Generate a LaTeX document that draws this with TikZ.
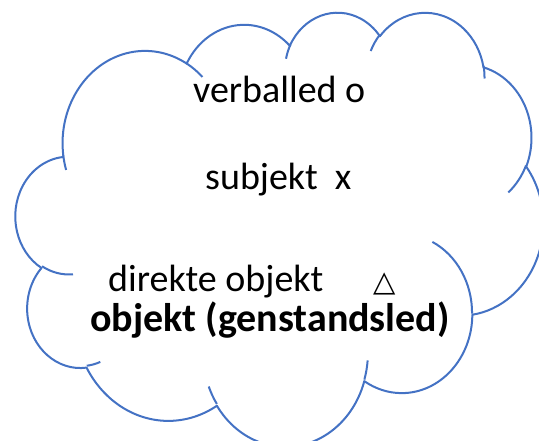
\documentclass[tikz,border=0pt]{standalone}
\usepackage{fontspec}
\setmainfont{Carlito}
\newfontfamily\symfont{DejaVu Sans}
\definecolor{cloudblue}{RGB}{68,114,196}
\tikzset{cloudline/.style={draw=cloudblue, line width=2pt, line join=round}}

\begin{document}
\begin{tikzpicture}[x=1pt, y=-1pt, font=\fontsize{38}{46}\selectfont]
  \useasboundingbox (0,0) rectangle (539,441);
  \clip (0,0) rectangle (539,441);
  % cloud outline, arcs given as x radius / y radius / start / sweep
  \begin{scope}[shift={(15.7,11.3)}, x=0.12209pt, y=-0.10046pt]
    \draw[cloudline, fill=white] (390,1437)
      \foreach \rx/\ry/\sa/\da in {675.3/919.0/-190.4875/123.7805,
                                   533.3/726.7/-144.1024/89.9452,
                                   436.5/594.5/-145.8079/99.7230,
                                   485.7/659.5/-130.9861/117.2417,
                                   533.3/727.3/-78.7089/109.0269,
                                   677.5/922.0/-46.2673/130.2690,
                                   578.5/786.7/0.6250/114.0333,
                                   675.2/921.5/22.4516/115.1726,
                                   772.0/1054.3/66.2426/75.7110,
                                   436.0/591.8/-274.9421/146.7356,
                                   434.5/594.5/-246.8285/152.5189}{
        arc[start angle={atan2(\rx*sin(\sa),\ry*cos(\sa))},
            delta angle={mod(atan2(\rx*sin(\sa+\da),\ry*cos(\sa+\da))-atan2(\rx*sin(\sa),\ry*cos(\sa))+720,360)},
            x radius=\rx, y radius=\ry]
      } -- cycle;
    % inner bits of the lobes
    \foreach \px/\py/\rx/\ry/\sa/\da in {469.3/2617.7/434.5/594.5/86.7420/26.4295,
                                         692.8/3489.9/436.0/591.8/73.6105/11.4475,
                                         1647.8/3909.0/675.2/921.5/137.6242/14.0811,
                                         2882.7/3475.1/675.2/921.5/6.4533/15.9984,
                                         3412.9/2295.4/578.5/786.7/-70.2924/70.9174,
                                         4179.8/1535.4/533.3/727.3/30.3180/27.7515,
                                         3832.4/542.6/485.7/659.5/-13.7443/14.8589,
                                         2907.8/395.2/485.7/659.5/-149.1815/18.1954,
                                         2214.1/472.0/436.5/594.5/-163.4943/17.6864,
                                         1400.0/519.2/675.3/919.0/-66.7070/12.3194,
                                         412.7/1578.9/675.3/919.0/157.6544/11.8582}{
      \draw[cloudline] (\px,\py)
        arc[start angle={atan2(\rx*sin(\sa),\ry*cos(\sa))},
            delta angle={mod(atan2(\rx*sin(\sa+\da),\ry*cos(\sa+\da))-atan2(\rx*sin(\sa),\ry*cos(\sa))+720,360)},
            x radius=\rx, y radius=\ry];
    }
  \end{scope}
  % text
  \node[anchor=base west, inner sep=0pt] (verbal) at (193,103) {verballed o};
  \node[anchor=base west, inner sep=0pt] (subj) at (205,190) {subjekt\ \ x};
  \node[anchor=base west, inner sep=0pt] (dirobj) at (108,292)
    {direkte objekt\hspace{50pt}{\symfont\fontsize{29}{36}\selectfont △}};
  \node[anchor=base west, inner sep=0pt, font=\fontsize{40}{48}\selectfont\bfseries] (objekt) at (90,331)
    {objekt (genstandsled)};
\end{tikzpicture}
\end{document}
